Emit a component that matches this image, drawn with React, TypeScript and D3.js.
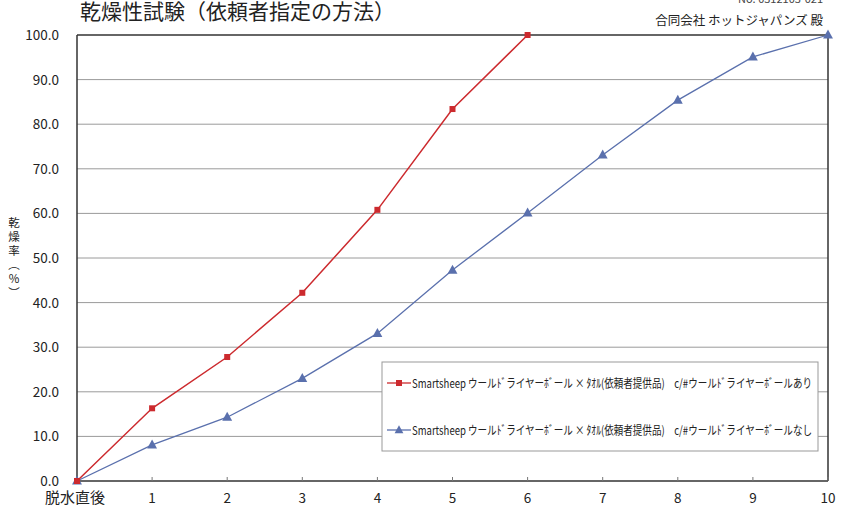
import React from "react";
import * as d3 from "d3";

const xTicks = [0, 1, 2, 3, 4, 5, 6, 7, 8, 9, 10];
const xTickLabels = ["脱水直後", "1", "2", "3", "4", "5", "6", "7", "8", "9", "10"];
const yTicks = [0, 10, 20, 30, 40, 50, 60, 70, 80, 90, 100];
const redX = [0, 1, 2, 3, 4, 5, 6];
const redY = [0, 16.3, 27.8, 42.2, 60.8, 83.4, 100];
const blueX = [0, 1, 2, 3, 4, 5, 6, 7, 8, 9, 10];
const blueY = [0, 8.1, 14.3, 23.0, 33.1, 47.3, 60.1, 73.1, 85.4, 95.1, 100];
const seriesNames = [
  "Smartsheep ウールﾄﾞライヤーﾎﾞール × ﾀｵﾙ(依頼者提供品)\u3000c/#ウールﾄﾞライヤーﾎﾞールあり",
  "Smartsheep ウールﾄﾞライヤーﾎﾞール × ﾀｵﾙ(依頼者提供品)\u3000c/#ウールﾄﾞライヤーﾎﾞールなし",
];
const title = "乾燥性試験（依頼者指定の方法）";
const subtitle = "合同会社 ホットジャパンズ 殿";
const refNo = "No. 0312103-021";
const yTitleChars = ["乾", "燥", "率", "︵", "%", "︶"];

const FONT = "'Noto Sans CJK JP', 'Noto Sans', sans-serif";
const RED = "#cc2a2e";
const BLUE = "#5a70ad";

export default function App() {
  const W = 851, H = 509;
  const x = d3.scaleLinear().domain([0, 10]).range([77, 828]);
  const y = d3.scaleLinear().domain([0, 100]).range([481, 35]);
  const line = d3.line<[number, number]>().x(d => x(d[0])).y(d => y(d[1]));
  const red: [number, number][] = redX.map((v, i) => [v, redY[i]]);
  const blue: [number, number][] = blueX.map((v, i) => [v, blueY[i]]);
  const tri = (cx: number, cy: number, s: number) =>
    `M${cx},${cy - s * 0.6}L${cx + s * 0.55},${cy + s * 0.4}L${cx - s * 0.55},${cy + s * 0.4}Z`;

  return (
    <svg width={W} height={H} style={{ position: "absolute", left: 0, top: 0, background: "#fff" }} fontFamily={FONT}>
      <rect width={W} height={H} fill="#fff" />
      {/* header */}
      <text x={80} y={19} fontSize={21} fill="#222">{title}</text>
      <text x={823} y={3} fontSize={11} fill="#444" textAnchor="end">{refNo}</text>
      <text x={823} y={25} fontSize={12.5} fill="#222" textAnchor="end">{subtitle}</text>

      {/* grid */}
      {yTicks.filter(t => t > 0 && t < 100).map(t => (
        <line key={t} x1={x(0)} x2={x(10)} y1={y(t)} y2={y(t)} stroke="#9a9a9a" strokeWidth={1} />
      ))}
      {/* frame */}
      <line x1={x(0)} x2={x(10)} y1={y(100)} y2={y(100)} stroke="#333" strokeWidth={1.5} />
      <line x1={x(10)} x2={x(10)} y1={y(100)} y2={y(0)} stroke="#333" strokeWidth={1.5} />
      <line x1={x(0)} x2={x(0)} y1={y(100)} y2={y(0)} stroke="#333" strokeWidth={1.5} />
      <line x1={x(0)} x2={x(10)} y1={y(0)} y2={y(0)} stroke="#333" strokeWidth={1.5} />
      {xTicks.map(t => (
        <line key={t} x1={x(t)} x2={x(t)} y1={y(0)} y2={y(0) - 4} stroke="#777" strokeWidth={1} />
      ))}

      {/* y tick labels */}
      {yTicks.map(t => (
        <text key={t} x={59} y={y(t) + 5} fontSize={13.5} fill="#222" textAnchor="end">{d3.format(".1f")(t)}</text>
      ))}
      {/* x tick labels */}
      {xTicks.map((t, i) => (
        <text key={t} x={i === 0 ? 75 : x(t)} y={503} fontSize={i === 0 ? 15 : 13.5} fill="#222" textAnchor="middle">{xTickLabels[i]}</text>
      ))}
      {/* y title */}
      {yTitleChars.map((c, i) => (
        <text key={i} x={14} y={227 + i * 14} fontSize={11.5} fill="#222" textAnchor="middle">{c}</text>
      ))}

      {/* series */}
      <path d={line(blue) || ""} fill="none" stroke={BLUE} strokeWidth={1.3} />
      <path d={line(red) || ""} fill="none" stroke={RED} strokeWidth={1.5} />
      {blue.map((d, i) => (
        <path key={i} d={tri(x(d[0]), y(d[1]), 9)} fill={BLUE} />
      ))}
      {red.map((d, i) => (
        <rect key={i} x={x(d[0]) - 3} y={y(d[1]) - 3} width={6} height={6} fill={RED} />
      ))}

      {/* legend */}
      <rect x={382} y={362} width={436} height={89} fill="#fff" stroke="#999" strokeWidth={1} />
      <line x1={387} x2={411} y1={383} y2={383} stroke={RED} strokeWidth={1.3} />
      <rect x={396} y={380} width={6} height={6} fill={RED} />
      <text x={412} y={387.5} fontSize={12} fill="#222" textLength={400} lengthAdjust="spacingAndGlyphs">{seriesNames[0]}</text>
      <line x1={387} x2={411} y1={430} y2={430} stroke={BLUE} strokeWidth={1.3} />
      <path d={tri(399, 430, 8)} fill={BLUE} />
      <text x={412} y={434.5} fontSize={12} fill="#222" textLength={400} lengthAdjust="spacingAndGlyphs">{seriesNames[1]}</text>
    </svg>
  );
}
